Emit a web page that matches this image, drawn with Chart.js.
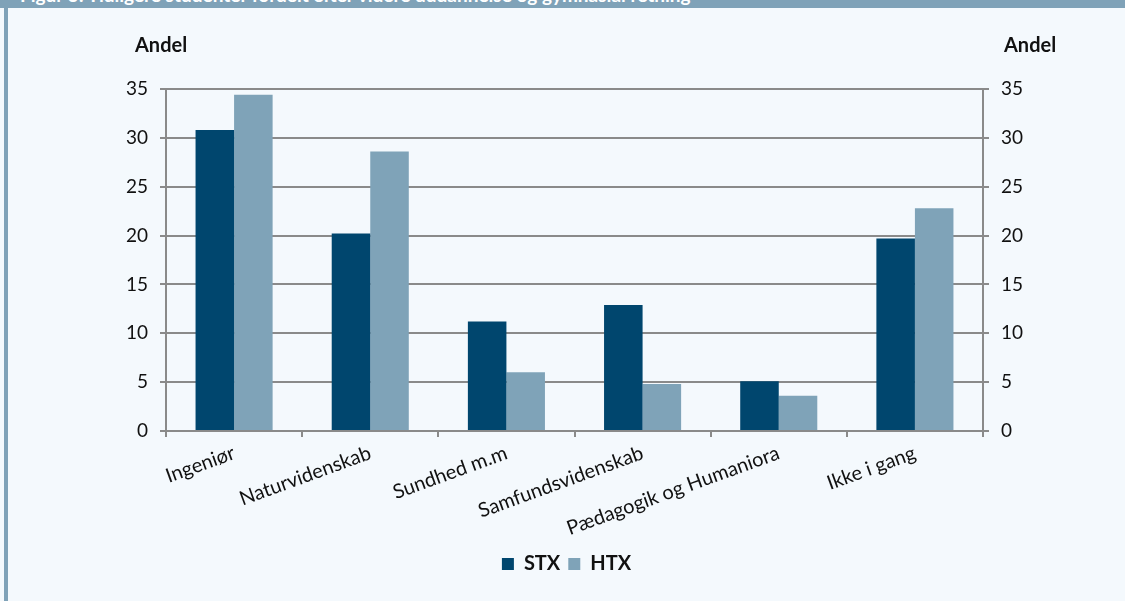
<!DOCTYPE html>
<html>
<head>
<meta charset="utf-8">
<script src="https://cdn.jsdelivr.net/npm/chart.js@4/dist/chart.umd.min.js"></script>
<style>
  html, body { margin: 0; padding: 0; }
  body { width: 1125px; height: 601px; background: #f4f9fd; position: relative; overflow: hidden; }
  #titlebar { position: absolute; left: 0; top: 0; width: 1125px; height: 8px; background: #7fa2b8; overflow: hidden; }
  #titlebar span { position: absolute; left: 20px; top: -15px; font: bold 19px Lato, sans-serif; color: #ffffff; white-space: nowrap; line-height: 20px; }
  #leftbar { position: absolute; left: 4px; top: 8px; width: 4px; height: 593px; background: #7fa2b8; }
  #wrap { position: absolute; left: 8px; top: 8px; width: 1117px; height: 593px; }
</style>
</head>
<body>
<div id="titlebar"><span>Figur 3: Tidligere studenter fordelt efter videre uddannelse og gymnasial retning</span></div>
<div id="leftbar"></div>
<div id="wrap"><canvas id="chart-1"></canvas></div>
<script>
const categories = ["Ingeniør", "Naturvidenskab", "Sundhed m.m", "Samfundsvidenskab", "Pædagogik og Humaniora", "Ikke i gang"];
const stxValues = [30.8, 20.2, 11.2, 12.9, 5.1, 19.7];
const htxValues = [34.4, 28.6, 6.0, 4.8, 3.6, 22.8];
const yTicks = [0, 5, 10, 15, 20, 25, 30, 35];

const gridGrey = "#8a8a8a";
const fontName = "Lato, 'Open Sans', sans-serif";

// "Andel" over both value axes
const andelLabels = {
  id: "andelLabels",
  afterDraw(chart) {
    const ctx = chart.ctx;
    const area = chart.chartArea;
    ctx.save();
    ctx.font = "bold 20px " + fontName;
    ctx.fillStyle = "#111111";
    ctx.textBaseline = "middle";
    ctx.textAlign = "left";
    ctx.fillText("Andel", area.left - 31, 38);
    ctx.fillText("Andel", area.right + 21, 38);
    ctx.restore();
  }
};

const renderChart = () => {
  const ctx1 = document.getElementById("chart-1").getContext("2d");
  const myChart = new Chart(ctx1, {
    type: "bar",
    data: {
      labels: categories,
      datasets: [
        { label: "STX", data: stxValues, backgroundColor: "#00466e", yAxisID: "y" },
        { label: "HTX", data: htxValues, backgroundColor: "#7fa3b8", yAxisID: "y" },
      ],
    },
    options: {
      responsive: true,
      maintainAspectRatio: false,
      animation: false,
      categoryPercentage: 0.566,
      barPercentage: 1.0,
      layout: { padding: { top: 81, left: 0, right: 0, bottom: 17 } },
      plugins: {
        tooltip: { enabled: false },
        legend: {
          position: "bottom",
          labels: {
            boxWidth: 12,
            boxHeight: 12,
            padding: 8,
            color: "#111111",
            font: { family: fontName, size: 20, weight: "bold" },
          },
        },
      },
      scales: {
        x: {
          grid: { offset: true, drawOnChartArea: false, drawTicks: true, tickLength: 6, color: gridGrey, lineWidth: 2 },
          border: { display: true, color: gridGrey, width: 2 },
          ticks: {
            minRotation: 20,
            maxRotation: 20,
            padding: 4,
            color: "#111111",
            font: { family: fontName, size: 20 },
          },
          afterFit(scale) { scale.height = 115; },
        },
        y: {
          position: "left",
          min: 0,
          max: 35,
          afterBuildTicks(scale) { scale.ticks = yTicks.map(v => ({ value: v })); },
          grid: { color: gridGrey, lineWidth: 2, tickLength: 6 },
          border: { display: true, color: gridGrey, width: 2 },
          ticks: { padding: 12, color: "#111111", font: { family: fontName, size: 19 } },
          afterFit(scale) { scale.width = 158; },
        },
        y2: {
          position: "right",
          min: 0,
          max: 35,
          afterBuildTicks(scale) { scale.ticks = yTicks.map(v => ({ value: v })); },
          grid: { drawOnChartArea: false, color: gridGrey, lineWidth: 2, tickLength: 6 },
          border: { display: true, color: gridGrey, width: 2 },
          ticks: { padding: 12, color: "#111111", font: { family: fontName, size: 19 } },
          afterFit(scale) { scale.width = 142; },
        },
      },
    },
    plugins: [andelLabels],
  });
}

document.onload = renderChart()
</script>
</body>
</html>
